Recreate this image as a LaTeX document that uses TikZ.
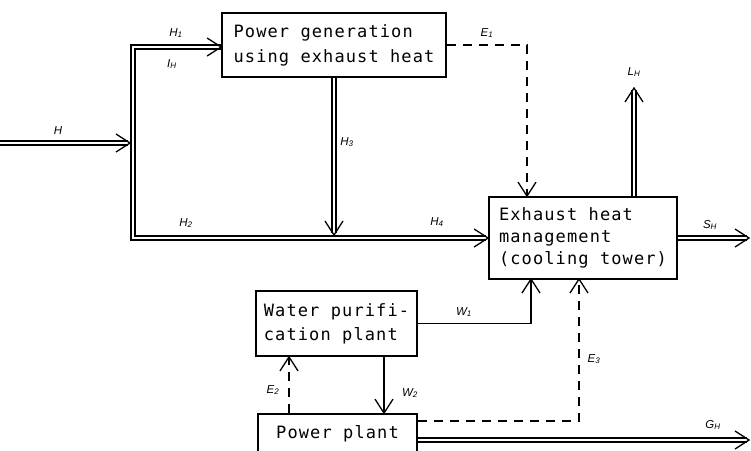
\documentclass[tikz,border=0pt]{standalone}
\usepackage{fontspec}
\setsansfont{Liberation Sans}
\newfontfamily\boxfont[LetterSpace=6.5]{DejaVu Sans Mono}
\usetikzlibrary{calc}
\begin{document}
\begin{tikzpicture}[x=1pt,y=-1pt,
  box/.style={draw, line width=1.8pt, inner sep=0pt, align=left},
  dbl/.style={double, double distance=2.5pt, line width=1.5pt, line join=miter},
  sgl/.style={line width=1.4pt},
  dsh/.style={line width=1.4pt, dash pattern=on 9pt off 7pt},
  lbl/.style={font=\sffamily\itshape\fontsize{11.5}{13}\selectfont, inner sep=0pt},
  vee/.pic={\draw[line width=1.3pt, solid, line join=miter] (-14,9) -- (0,0) -- (-14,-9);}]
\useasboundingbox (0,0) rectangle (751,450);
\clip (0,0) rectangle (751,450);

% boxes
\node[box, minimum width=224pt, minimum height=64pt, font=\boxfont\fontsize{17}{25}\selectfont] (pg) at (334,45) {Power generation\\using exhaust heat};
\node[box, minimum width=188pt, minimum height=82pt, font=\boxfont\fontsize{17}{22}\selectfont] (ex) at (583,238) {Exhaust heat\\management\\(cooling tower)};
\node[box, minimum width=161pt, minimum height=65pt, font=\boxfont\fontsize{17}{24}\selectfont] (wp) at (336.5,323.5) {Water purifi-\\cation plant};
\node[box, minimum width=159pt, minimum height=40pt, font=\boxfont\fontsize{17}{22}\selectfont] (pp) at (337.5,434) {Power plant};

% coordinates
\coordinate (hin) at (0,143);
\coordinate (hjoin) at (130,143);
\coordinate (cTop) at (133,47);
\coordinate (cBot) at (133,238);
\coordinate (h3end) at (334,235);
\coordinate (lhtop) at (634,88);
\coordinate (shend) at (749,238);
\coordinate (ghend) at (749,440);
\coordinate (w1end) at (531,279);
\coordinate (e3end) at (579,279);
\coordinate (e2x) at (289,0);
\coordinate (w2x) at (384,0);
\coordinate (e1x) at (527,0);
\coordinate (e3start) at ($(pp.east)+(0,-13)$);

% double-line heat flows
\draw[dbl, shorten >=2pt] (hin) -- (hjoin);
\draw[dbl, shorten >=2pt] (pg.west |- cTop) -- (cTop) -- (cBot) -- (ex.west);
\draw[dbl] (pg.west |- cTop) -- ++(-2,0);
\draw[dbl, shorten >=2pt] (pg.south) -- (h3end);
\draw[dbl, shorten >=2pt] (lhtop |- ex.north) -- (lhtop);
\draw[dbl, shorten >=2pt] (ex.east) -- (shend);
\draw[dbl, shorten >=2pt] (pp.east |- ghend) -- (ghend);

\pic at (hjoin) {vee};
\pic at (pg.west |- cTop) {vee};
\pic at (ex.west) {vee};
\pic[rotate=-90] at (h3end) {vee};
\pic[rotate=90] at (lhtop) {vee};
\pic at (shend) {vee};
\pic at (ghend) {vee};

% single lines
\draw[sgl] (wp.east) -| (w1end);
\pic[rotate=90] at (w1end) {vee};
\draw[sgl] (w2x |- wp.south) -- (w2x |- pp.north);
\pic[rotate=-90] at (w2x |- pp.north) {vee};

% dashed energy flows
\draw[dsh] (pg.east) -| (e1x |- ex.north);
\pic[rotate=-90] at (e1x |- ex.north) {vee};
\draw[dsh] (e3start) -| (e3end);
\pic[rotate=90] at (e3end) {vee};
\draw[dsh] (e2x |- pp.north) -- (e2x |- wp.south);
\pic[rotate=90] at (e2x |- wp.south) {vee};

% labels
\node[lbl] (lH) at (58,131) {H};
\node[lbl] (lH1) at (176,33) {H\textsubscript{1}};
\node[lbl] (lIH) at (172,64) {I\textsubscript{H}};
\node[lbl] (lH2) at (186,223) {H\textsubscript{2}};
\node[lbl] (lH3) at (347,142) {H\textsubscript{3}};
\node[lbl] (lH4) at (437,222) {H\textsubscript{4}};
\node[lbl] (lE1) at (487,33) {E\textsubscript{1}};
\node[lbl] (lLH) at (634,72) {L\textsubscript{H}};
\node[lbl] (lSH) at (710,225) {S\textsubscript{H}};
\node[lbl] (lW1) at (464,312) {W\textsubscript{1}};
\node[lbl] (lW2) at (410,393) {W\textsubscript{2}};
\node[lbl] (lE2) at (273,390) {E\textsubscript{2}};
\node[lbl] (lE3) at (594,359) {E\textsubscript{3}};
\node[lbl] (lGH) at (713,425) {G\textsubscript{H}};
\end{tikzpicture}
\end{document}
